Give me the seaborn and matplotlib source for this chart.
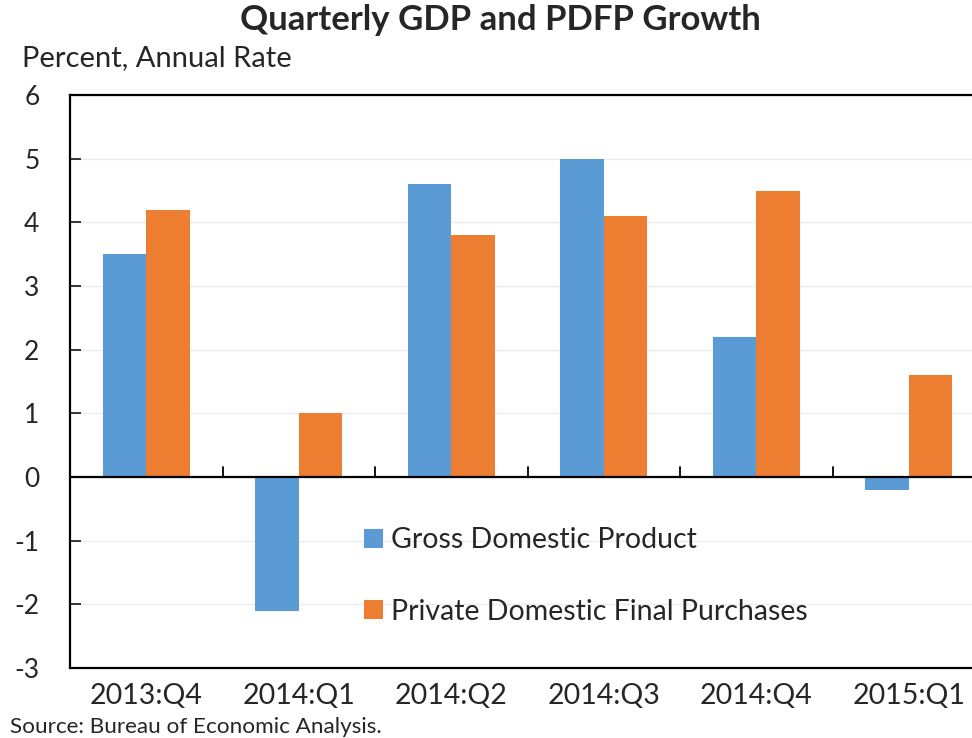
import matplotlib
matplotlib.use('Agg')
import matplotlib.pyplot as plt
import numpy as np
import pandas as pd
import seaborn as sns

# 数据
quarters = ['2013:Q4', '2014:Q1', '2014:Q2', '2014:Q3', '2014:Q4', '2015:Q1']
gdp = [3.5, -2.1, 4.6, 5.0, 2.2, -0.2]
pdfp = [4.2, 1.0, 3.8, 4.1, 4.5, 1.6]
series_names = ['Gross Domestic Product', 'Private Domestic Final Purchases']
colors = ['#5B9BD5', '#ED7D31']

df = pd.DataFrame({'quarter': quarters * 2,
                   'value': gdp + pdfp,
                   'series': [series_names[0]] * len(quarters) + [series_names[1]] * len(quarters)})

sns.set_style('white')
plt.rcParams['font.family'] = ['Lato', 'DejaVu Sans']
plt.rcParams['axes.unicode_minus'] = False

fig = plt.figure(figsize=(9.72, 7.38), dpi=100)
ax = fig.add_axes([70 / 972, 1 - 668 / 738, 915 / 972, (668 - 95) / 738])

sns.barplot(data=df, x='quarter', y='value', hue='series', palette=colors,
            width=0.57, gap=0, saturation=1, edgecolor='none', ax=ax, zorder=3)

ax.set_ylim(-3, 6)
ax.set_xlim(-0.5, len(quarters) - 0.5)
ax.set_yticks(range(-3, 7))
ax.yaxis.grid(True, color='#ececec', lw=1, zorder=0)
ax.axhline(0, color='black', lw=1.6, zorder=4)
# 类别之间的刻度线（在零线上）
for b in np.arange(0.5, len(quarters) - 0.5):
    ax.plot([b, b], [0, 0.15], color='black', lw=1.3, zorder=4)

for s in ['left', 'top', 'bottom']:
    ax.spines[s].set_color('black')
    ax.spines[s].set_linewidth(1.6)
ax.spines['right'].set_visible(False)

ax.tick_params(axis='y', direction='in', length=8, width=1.3, pad=22, labelsize=19, left=True)
ax.tick_params(axis='x', length=0, pad=11, labelsize=20.5)
for t in ax.get_yticklabels():
    t.set_horizontalalignment('right')
ax.set_xlabel('')
ax.set_ylabel('')

leg = ax.legend(loc='upper left', bbox_to_anchor=(283 / 915, (668 - 516) / 573), frameon=False,
                fontsize=20.5, handlelength=0.65, handleheight=0.65, handletextpad=0.3,
                labelspacing=1.6, borderaxespad=0)

fig.text(500 / 972, 1 - 20 / 738, 'Quarterly GDP and PDFP Growth', ha='center', va='center',
         fontsize=25, fontweight='bold')
fig.text(22 / 972, 1 - 58 / 738, 'Percent, Annual Rate', ha='left', va='center', fontsize=21)
fig.text(10 / 972, 1 - 727 / 738, 'Source: Bureau of Economic Analysis.', ha='left', va='center', fontsize=16.2)

plt.savefig('out.png', dpi=100)
